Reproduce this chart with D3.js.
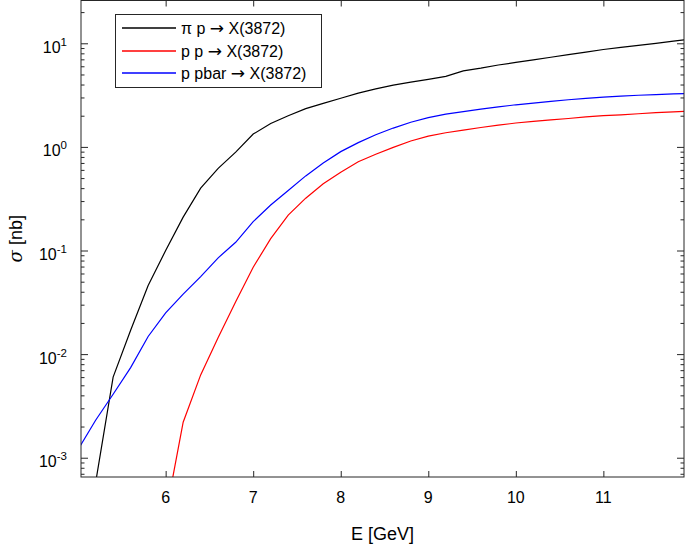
<!DOCTYPE html>
<html><head><meta charset="utf-8">
<script src="https://cdn.jsdelivr.net/npm/d3@7"></script>
<style>body{margin:0;background:#fff;} svg{display:block;font-family:"Liberation Sans",Arial,sans-serif;}</style>
</head><body><svg id="c" width="685" height="544"></svg>
<script>
const energies = [5.0,5.2,5.4,5.6,5.8,6.0,6.2,6.4,6.6,6.8,7.0,7.2,7.4,7.6,7.8,8.0,8.2,8.4,8.6,8.8,9.0,9.2,9.4,9.6,9.8,10.0,10.2,10.4,10.6,10.8,11.0,11.2,11.4,11.6,11.8,12.0];
const piP   = [null,5.75e-4,6.0e-3,0.017,0.046,0.10,0.21,0.40,0.62,0.89,1.33,1.68,2.0,2.34,2.63,2.95,3.30,3.63,3.94,4.22,4.49,4.79,5.41,5.75,6.17,6.53,6.92,7.33,7.76,8.22,8.71,9.12,9.55,10.0,10.5,10.96];
const pP    = [null,null,null,null,null,2.8e-4,2.2e-3,6.3e-3,0.0145,0.032,0.069,0.13,0.22,0.32,0.44,0.57,0.72,0.85,0.99,1.14,1.27,1.37,1.45,1.54,1.62,1.70,1.76,1.82,1.88,1.95,2.0,2.04,2.09,2.14,2.18,2.21];
const pPbar = [1.2e-3,2.3e-3,4.1e-3,7.4e-3,0.0148,0.025,0.038,0.056,0.085,0.12,0.19,0.275,0.38,0.525,0.70,0.90,1.10,1.31,1.52,1.73,1.92,2.07,2.19,2.32,2.43,2.55,2.65,2.75,2.85,2.94,3.02,3.09,3.15,3.20,3.25,3.29];
const seriesNames = [["\u03C0 p ","X(3872)"],["p p ","X(3872)"],["p pbar ","X(3872)"]];
const seriesColors = ["#000000","#ff0000","#0000ff"];
const xTicks = [6,7,8,9,10,11];
const yTickExps = [-3,-2,-1,0,1];
const xLabel = "E [GeV]";
const yLabel = ["\u03C3"," [nb]"];

const L=81, R=684, T=0.5, B=477;
const x = d3.scaleLinear().domain([5.033,11.921]).range([L,R]);
const y = d3.scaleLog().domain([Math.pow(10,-3.186),Math.pow(10,1.413)]).range([B,T]);
const svg = d3.select("#c");
const axisColor="#262626";

svg.append("defs").append("clipPath").attr("id","clip").append("rect")
  .attr("x",L).attr("y",T).attr("width",R-L).attr("height",B-T);

const seriesData=[piP,pP,pPbar];
const line = d3.line().defined(d=>d[1]!=null).x(d=>x(d[0])).y(d=>y(d[1]));
const g = svg.append("g").attr("clip-path","url(#clip)");
seriesData.forEach((s,i)=>{
  g.append("path").datum(energies.map((e,j)=>[e,s[j]]))
   .attr("d",line).attr("fill","none").attr("stroke",seriesColors[i]).attr("stroke-width",1.2);
});

const axBottom = d3.axisBottom(x).tickValues(xTicks).tickSize(-6).tickFormat("");
const axTop = d3.axisTop(x).tickValues(xTicks).tickSize(-6).tickFormat("");
const minorVals=[];
for(let e=-4;e<=1;e++){for(let m=2;m<=9;m++){const v=m*Math.pow(10,e); if(v>=y.domain()[0]&&v<=y.domain()[1]) minorVals.push(v);}}
const majorVals=yTickExps.map(e=>Math.pow(10,e));
function drawAxis(ax, tr){
  const gg=svg.append("g").attr("transform",tr).call(ax);
  gg.select(".domain").remove();
  gg.selectAll("line").attr("stroke",axisColor);
}
drawAxis(axBottom,`translate(0,${B})`);
drawAxis(axTop,`translate(0,${T})`);
drawAxis(d3.axisLeft(y).tickValues(minorVals).tickSize(-3.5).tickFormat(""),`translate(${L},0)`);
drawAxis(d3.axisRight(y).tickValues(minorVals).tickSize(-3.5).tickFormat(""),`translate(${R},0)`);
drawAxis(d3.axisLeft(y).tickValues(majorVals).tickSize(-7).tickFormat(""),`translate(${L},0)`);
drawAxis(d3.axisRight(y).tickValues(majorVals).tickSize(-7).tickFormat(""),`translate(${R},0)`);

svg.append("rect").attr("x",L).attr("y",T).attr("width",R-L).attr("height",B-T)
  .attr("fill","none").attr("stroke",axisColor).attr("stroke-width",1);

xTicks.forEach(t=>{
  svg.append("text").attr("x",x(t)).attr("y",503).attr("text-anchor","middle")
    .attr("font-size",16).attr("fill","#000").text(t);
});
yTickExps.forEach(e=>{
  const t=svg.append("text").attr("x",67).attr("y",y(Math.pow(10,e))+9.5).attr("text-anchor","end")
    .attr("font-size",16).attr("fill","#000");
  t.append("tspan").text("10");
  t.append("tspan").attr("dy",-7).attr("font-size",11.5).text(String(e));
});

svg.append("text").attr("x",(L+R)/2).attr("y",540).attr("text-anchor","middle")
  .attr("font-size",18).attr("fill","#000").text(xLabel);
const yl=svg.append("text").attr("transform",`translate(22,${(T+B)/2}) rotate(-90)`).attr("text-anchor","middle")
  .attr("font-size",18).attr("fill","#000");
yl.append("tspan").attr("font-family","DejaVu Serif").attr("font-style","italic").text(yLabel[0]);
yl.append("tspan").text(yLabel[1]);

const lg=svg.append("g");
lg.append("rect").attr("x",115.5).attr("y",14.5).attr("width",206).attr("height",73)
  .attr("fill","#fff").attr("stroke",axisColor).attr("stroke-width",1);
const rowY=[28,51,73];
seriesNames.forEach((n,i)=>{
  lg.append("path").attr("d",`M122,${rowY[i]}H176`)
    .attr("stroke",seriesColors[i]).attr("stroke-width",1.3).attr("fill","none");
  const t=lg.append("text").attr("x",181).attr("y",rowY[i]+6).attr("font-size",16).attr("fill","#000");
  t.append("tspan").text(n[0]);
  t.append("tspan").attr("font-family","DejaVu Sans").attr("font-size",17).text("\u2192");
  t.append("tspan").text(" "+n[1]);
});
</script></body></html>
